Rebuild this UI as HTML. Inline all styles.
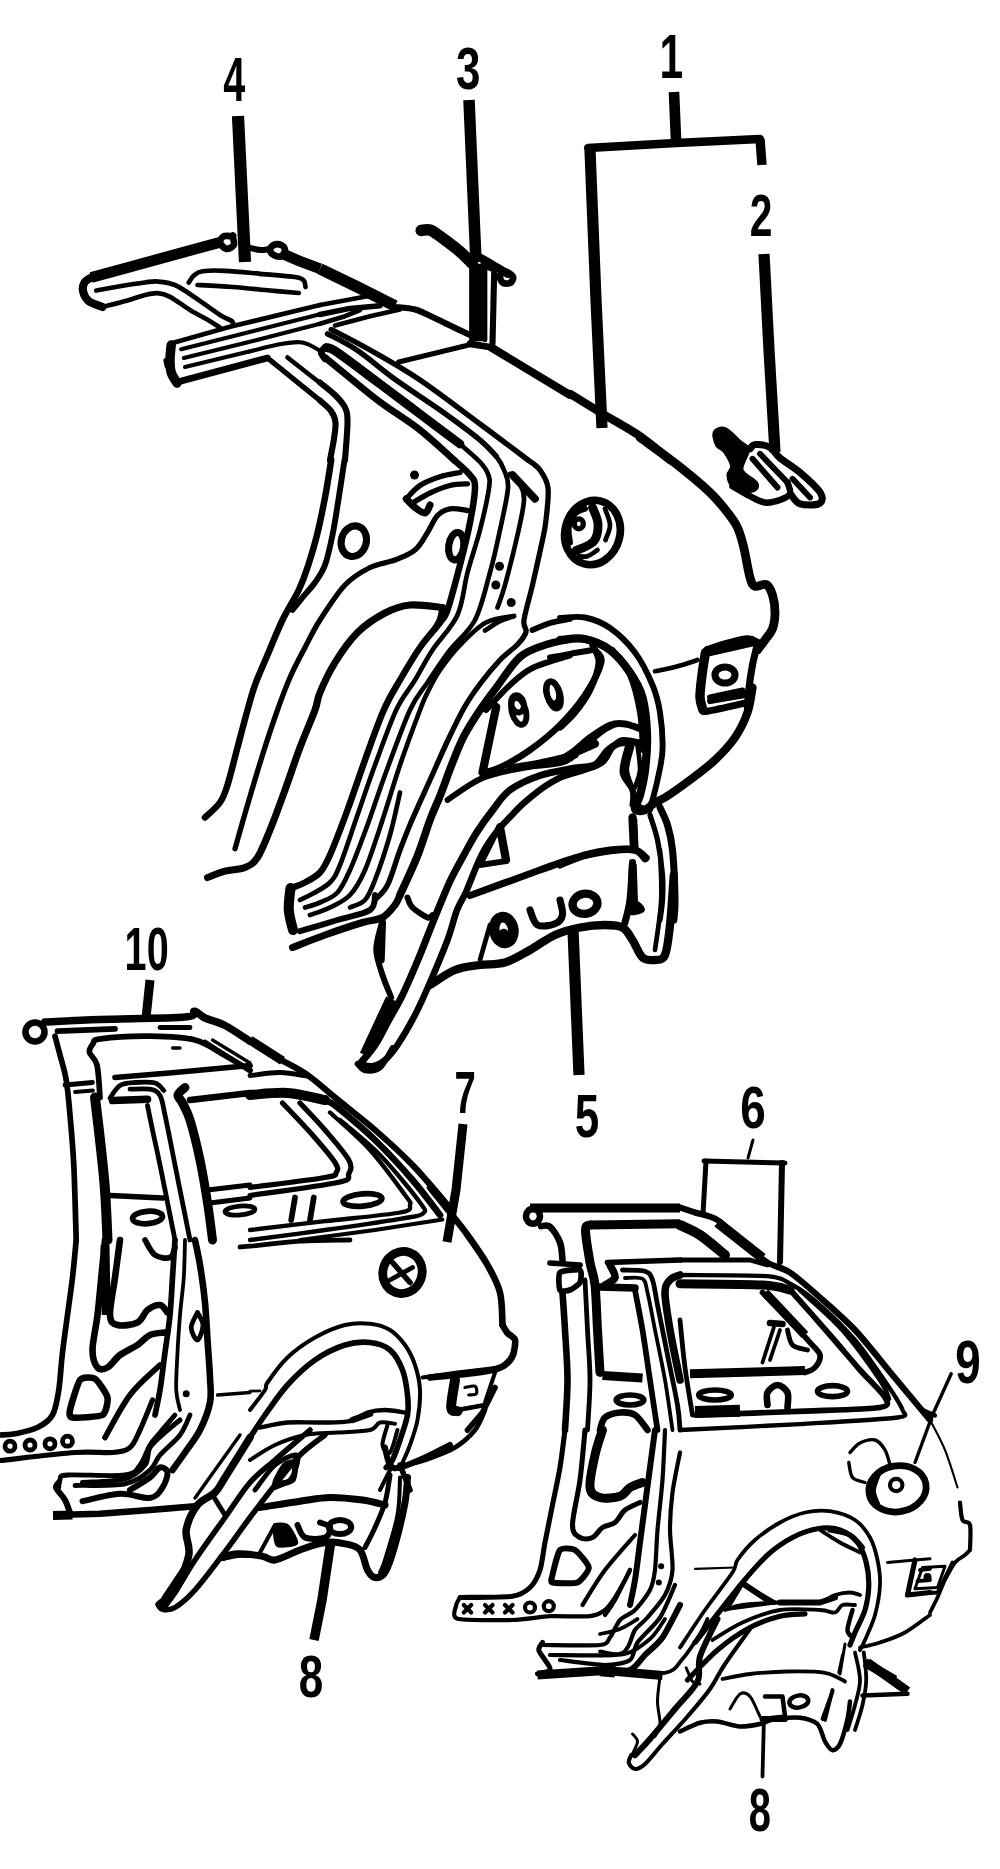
<!DOCTYPE html>
<html lang="en">
<head>
<meta charset="utf-8">
<title>Quarter panel parts diagram</title>
<style>
html,body{margin:0;padding:0;background:#fff;}
body{width:1000px;height:1869px;overflow:hidden;}
svg{display:block;}
.lbl text{font-family:"Liberation Sans","DejaVu Sans",sans-serif;font-weight:bold;fill:#000;}
</style>
</head>
<body>
<svg width="1000" height="1869" viewBox="0 0 1000 1869">
<rect width="1000" height="1869" fill="#fff"/>
<g class="ink" stroke="#000" stroke-width="2.5" fill="none" stroke-linecap="round" stroke-linejoin="round">
<path d="M91.2 277.5 L132.5 266.2 L182.5 252.5 L221.2 242" stroke-width="10.8" stroke-linecap="butt"/>
<path d="M232.5 236.2C231 236.2 225.8 235.2 223.8 236.2C221.7 237.3 219.6 240.4 220 242.5C220.4 244.6 224 248.3 226.2 248.8C228.5 249.2 232.7 247.1 233.8 245C234.8 242.9 232.7 237.7 232.5 236.2C232.3 234.8 234 236.2 232.5 236.2Z" stroke-width="6.8"/>
<path d="M91.2 277.5C90.1 278.3 85.9 280.2 84.5 282.5C83.1 284.8 82.3 288.1 83 291.2C83.7 294.4 85.5 298.6 88.8 301.2C92 303.9 100.2 306 102.5 307" stroke-width="8.1"/>
<path d="M102.5 307C106.7 305.9 120.4 302.5 127.5 300.5C134.6 298.5 140 296.2 145 295C150 293.8 153.3 293 157.5 293.2C161.7 293.5 164.6 294 170 296.8C175.4 299.5 183.3 305.9 190 310C196.7 314.1 205 318.3 210 321.2C215 324.2 218.3 326.5 220 327.5" stroke-width="4.7"/>
<path d="M96.2 290.5C100.2 289.8 111.9 287.6 120 286.2C128.1 284.9 138.8 283.3 145 282.5C151.2 281.7 152.5 281.1 157.5 281.5C162.5 281.9 168.8 282.3 175 285C181.2 287.7 187.5 292.5 195 297.5C202.5 302.5 213.8 311 220 315C226.2 319 229.9 319.5 232 321.2C234.1 323 232.4 324.8 232.5 325.5" stroke-width="4.7"/>
<path d="M188.8 282.5C189.6 281.3 191.5 277.4 193.8 275.5C196 273.6 197.3 272 202.5 271.2C207.7 270.5 215.4 270.3 225 270.8C234.6 271.2 248.3 272.7 260 273.8C271.7 274.8 287.7 275.9 295 277C302.3 278.1 302 278.8 303.8 280.5C305.5 282.2 305.2 285.9 305.5 287" stroke-width="4.7"/>
<path d="M197.5 285C203.3 285.3 220.4 286.1 232.5 287C244.6 287.9 259 289.5 270 290.5C281 291.5 294 292.6 298.8 293" stroke-width="4.7"/>
<path d="M248.8 247.5C250.6 247.9 256.5 249.8 260 250C263.5 250.2 268.3 249 270 248.8" stroke-width="6.1"/>
<path d="M270 250C270 248.3 271.9 245.8 273.8 245C275.6 244.2 279.4 244.2 281.2 245C283.1 245.8 285 248.1 285 250C285 251.9 283.1 255.4 281.2 256.2C279.4 257.1 275.6 256 273.8 255C271.9 254 270 251.7 270 250Z" stroke-width="6.8"/>
<path d="M282.5 253.8 L300 261.2 L320 268.8" stroke-width="10.8" stroke-linecap="butt"/>
<path d="M171.2 345C171 347.5 170 355.4 170 360C170 364.6 170.1 368.7 171.2 372.5C172.4 376.3 176 381.2 177 383" stroke-width="9.5"/>
<path d="M172.5 343 L230 326.8 L320 305" stroke-width="4.7"/>
<path d="M181.2 349.2 L320 314.2" stroke-width="4.1"/>
<path d="M183.8 358 L255 340.5 L320 323.8" stroke-width="4.1"/>
<path d="M185 367C195 364.6 228.8 356.4 245 352.5C261.2 348.6 272.9 345.4 282.5 343.8C292.1 342.1 296.2 341.4 302.5 342.5C308.8 343.6 317.1 349.2 320 350.5" stroke-width="4.1"/>
<path d="M177.5 382 L267.5 358" stroke-width="6.8"/>
<path d="M270 360 L320 400.5" stroke-width="5.4"/>
<path d="M287.5 357.5 L320 383" stroke-width="4.7"/>
<path d="M165 360 L166.2 366.2" stroke-width="3.4"/>
<path d="M238 116 L245 262" stroke-width="12.2" stroke-linecap="butt"/>
<path d="M421.2 230.5C422.7 230.4 426.9 229 430 230C433.1 231 435.8 233.3 440 236.2C444.2 239.2 450.8 244.2 455 247.5C459.2 250.8 462.1 253.5 465 256.2C467.9 259 471.2 262.5 472.5 263.8" stroke-width="11.5"/>
<path d="M480 257.5C482.5 259 490.4 263.5 495 266.2C499.6 269 505.4 272.5 507.5 273.8" stroke-width="8.1"/>
<path d="M500 275.5C500.6 273.8 504.1 271.8 506.2 272C508.4 272.2 512.4 275.2 513 277C513.6 278.8 511.8 282.1 510 283C508.2 283.9 504.2 283.8 502.5 282.5C500.8 281.2 499.4 277.2 500 275.5Z" stroke-width="6.8"/>
<path d="M476.2 263.8 L476.2 341.2" stroke-width="14.1" stroke-linecap="butt"/>
<path d="M485 266.2 L485 340" stroke-width="4.7"/>
<path d="M482.5 265.5 L495 270" stroke-width="5.4"/>
<path d="M494.2 271.2 L492.5 343.8" stroke-width="6.1"/>
<path d="M320 268.8 L357.5 287 L395 305.8" stroke-width="11.5" stroke-linecap="butt"/>
<path d="M395 307C398.3 307.4 408.8 307.8 415 309.5C421.2 311.2 426.7 314.3 432.5 317C438.3 319.7 443.8 322.5 450 325.5C456.2 328.5 466.7 333.4 470 335" stroke-width="6.1"/>
<path d="M320 305 L370 295.8" stroke-width="4.7"/>
<path d="M320 314.5 L347.5 308.8 L380 305.8" stroke-width="5.4"/>
<path d="M320 323.8 L345 316.2 L360 310" stroke-width="4.7"/>
<path d="M335 325.5 L370 316.2 L400 309.5" stroke-width="4.7"/>
<path d="M398.8 362 L468.8 345" stroke-width="5.4"/>
<path d="M470 343.8 L492.5 347.5" stroke-width="6.8"/>
<path d="M491.2 347.5 L570 395" stroke-width="8.1"/>
<path d="M331.2 329.5C337.7 332.9 355.2 341.6 370 350C384.8 358.4 401.7 367.7 420 380C438.3 392.3 462 410.7 480 424C498 437.3 520 454 528 460" stroke-width="5.4"/>
<path d="M327.5 333.8C332.5 336.5 346.1 342.8 357.5 350.5C368.9 358.2 382.2 370.1 396 380C409.8 389.9 426 400 440 410C454 420 470.7 432.3 480 440C489.3 447.7 493.3 453.3 496 456" stroke-width="5.4"/>
<path d="M326.2 347.5C328.1 348.3 328.5 346.4 337.5 352.5C346.5 358.6 366.2 373.8 380 384C393.8 394.2 406.7 404 420 414C433.3 424 453.3 439 460 444" stroke-width="8.8"/>
<path d="M325 357.5C328.3 360.2 335.8 366.3 345 373.8C354.2 381.2 367.5 392.6 380 402C392.5 411.4 407.7 420.3 420 430C432.3 439.7 448.3 455 454 460" stroke-width="6.8"/>
<path d="M325 347.5C324.4 348.3 321.2 350.6 321.2 352.5C321.2 354.4 324.4 357.7 325 358.8" stroke-width="6.8"/>
<path d="M320 382.5C322.5 384.6 330.8 390.8 335 395C339.2 399.2 342.9 402.9 345 407.5C347.1 412.1 347.5 413.8 347.5 422.5C347.5 431.2 345.4 453.8 345 460" stroke-width="6.1"/>
<path d="M320 400.5C321.9 402.3 328.7 407.6 331.2 411.2C333.8 414.9 335.1 417.7 335.5 422.5C335.9 427.3 334.7 433.8 333.8 440C332.8 446.2 330.6 456.7 330 460" stroke-width="6.1"/>
<path d="M469 100 L476 262" stroke-width="11.5" stroke-linecap="butt"/>
<path d="M674 92 L676 140" stroke-width="10.6" stroke-linecap="butt"/>
<path d="M588 148 L676 143 L760 139" stroke-width="8.3"/>
<path d="M760 139 L762 165" stroke-width="9.4" stroke-linecap="butt"/>
<path d="M590 150 L596 300 L602 428" stroke-width="11.2" stroke-linecap="butt"/>
<path d="M764 254 L769 350 L775 452" stroke-width="11.2" stroke-linecap="butt"/>
<path d="M570 393.8C575.4 397.1 590.8 406.7 602.5 413.8C614.2 420.8 628.8 428.5 640 436.2C651.2 444 665 456 670 460" stroke-width="8.3"/>
<path d="M640 437.5C646.2 442.1 665.8 455.8 677.5 465C689.2 474.2 701.7 484.6 710 492.5C718.3 500.4 722.9 506.7 727.5 512.5C732.1 518.3 734.8 521.7 737.5 527.5C740.2 533.3 741.7 539.2 743.8 547.5C745.8 555.8 748.1 571 750 577.5C751.9 584 752.3 585.1 755 586.2C757.7 587.4 763.3 583 766.2 584.5C769.2 586 771 590.3 772.5 595C774 599.7 775 606.9 775 612.5C775 618.1 774.2 624.2 772.5 628.8C770.8 633.3 767.5 636.5 765 640C762.5 643.5 758.8 648.3 757.5 650" stroke-width="8.8"/>
<path d="M715 432.5C716.2 429.9 720.8 427.8 725 429.5C729.2 431.2 736.2 439.1 740 442.5C743.8 445.9 747.3 445.4 747.5 450C747.7 454.6 739.8 464.4 741.2 470C742.7 475.6 754.6 480.3 756.2 483.8C757.9 487.2 755 490.1 751.2 490.5C747.5 490.9 737.5 488.8 733.8 486.2C730 483.7 729 478.3 728.8 475C728.5 471.7 733.1 470.2 732.5 466.2C731.9 462.3 727.5 454.8 725 451.2C722.5 447.7 719.2 448.1 717.5 445C715.8 441.9 713.8 435.1 715 432.5Z" stroke-width="4.7" fill="#000"/>
<path d="M750 448.8C750.9 448 752.2 444.7 755.5 444.5C758.8 444.3 765.9 445.2 770 447.5C774.1 449.8 775 453.8 780 458C785 462.2 793.2 466.7 800 472.5C806.8 478.3 817.4 487.8 820.5 493C823.6 498.2 822.2 502 818.8 503.8C815.3 505.5 804.6 505.2 800 503.8C795.4 502.3 792.7 496.5 791.2 495" stroke-width="7.1"/>
<path d="M732.5 486.2C735.4 487.9 744.6 493.5 750 496.2C755.4 499 760 501.9 765 502.5C770 503.1 775.8 501.5 780 500C784.2 498.5 788.8 496.7 790 493.8C791.2 490.8 787.9 484.4 787.5 482.5" stroke-width="6.5"/>
<path d="M752.5 458.8 L777.5 487.5" stroke-width="5.9"/>
<path d="M760 453.8 L787.5 482.5" stroke-width="5.9"/>
<path d="M792.5 478.8 L810 497.5" stroke-width="5.9"/>
<path d="M707.5 650C710.8 649 720.8 645.5 727.5 643.8C734.2 642 742.5 639.6 747.5 639.5C752.5 639.4 755.8 642.4 757.5 643" stroke-width="8.3"/>
<ellipse cx="353.8" cy="541.2" rx="12.5" ry="15.5" stroke-width="7.1" fill="none" transform="rotate(15 353.8 541.2)"/>
<ellipse cx="414.5" cy="475" rx="4.5" ry="4.5" stroke="none" fill="#000"/>
<path d="M406.2 498.8C408.5 496.5 414.4 489.2 420 485.5C425.6 481.8 433.3 478.9 440 476.8C446.7 474.6 456.7 473.2 460 472.5" stroke-width="5.3"/>
<path d="M412.5 503C415.4 501.3 423.8 495.9 430 493C436.2 490.1 443.8 487 450 485.5C456.2 484 464.6 484 467.5 483.8" stroke-width="5.3"/>
<path d="M406.2 498.8C407.7 500.2 411.9 505.1 415 507.5C418.1 509.9 422.5 513.4 425 513C427.5 512.6 429.2 506.3 430 505" stroke-width="7.1"/>
<path d="M467.5 510.5C464.6 510.2 455 507.9 450 508.8C445 509.6 441.2 511.5 437.5 515.5C433.8 519.5 431.2 526.8 427.5 532.5C423.8 538.2 420.4 545.4 415 550C409.6 554.6 402.5 557.1 395 560C387.5 562.9 378.3 563.3 370 567.5C361.7 571.7 353.3 576.2 345 585C336.7 593.8 326.7 609.6 320 620C313.3 630.4 310 637.9 305 647.5C300 657.1 294.6 667.1 290 677.5C285.4 687.9 282.1 697.1 277.5 710C272.9 722.9 267.5 739.2 262.5 755C257.5 770.8 252.1 789.4 247.5 805C242.9 820.6 237.1 841.5 235 848.8" stroke-width="5.3"/>
<ellipse cx="456.2" cy="546.2" rx="7.5" ry="13.8" stroke-width="7.1" fill="none" transform="rotate(8 456.2 546.2)"/>
<path d="M454 460C456.7 462.5 466.5 470.4 470 475C473.5 479.6 475 479.6 475 487.5C475 495.4 472.5 509.6 470 522.5C467.5 535.4 463.8 550.4 460 565C456.2 579.6 450.8 600.4 447.5 610C444.2 619.6 444.6 616.2 440 622.5C435.4 628.8 426.7 637.9 420 647.5C413.3 657.1 406 669.6 400 680C394 690.4 389.6 696.7 383.8 710C377.9 723.3 371 743.3 365 760C359 776.7 353.3 794.2 347.5 810C341.7 825.8 334.6 844.6 330 855C325.4 865.4 324.2 867.9 320 872.5C315.8 877.1 309.6 880 305 882.5C300.4 885 294.6 886.7 292.5 887.5" stroke-width="6.5"/>
<path d="M460 444C463.3 447 475.3 457 480 462C484.7 467 486.5 469.7 488 474C489.5 478.3 490.3 478.7 489 488C487.7 497.3 483.6 515.9 480 530C476.4 544.1 471.2 558.3 467.5 572.5C463.8 586.7 463.3 602.1 457.5 615C451.7 627.9 439.6 639.2 432.5 650C425.4 660.8 421 670 415 680C409 690 402.9 695.8 396.2 710C389.6 724.2 381.5 747.5 375 765C368.5 782.5 363.3 798.3 357.5 815C351.7 831.7 344.6 853.8 340 865C335.4 876.2 334.6 877.7 330 882.5C325.4 887.3 317.5 890.8 312.5 893.8C307.5 896.7 302.1 899 300 900" stroke-width="4.7"/>
<path d="M480 440C482.7 442.7 492 451 496 456C500 461 502 464.7 504 470C506 475.3 508.7 478 508 488C507.3 498 503 515.9 500 530C497 544.1 494.2 557.5 490 572.5C485.8 587.5 481.7 607.1 475 620C468.3 632.9 457.9 639.6 450 650C442.1 660.4 434.2 672.5 427.5 682.5C420.8 692.5 417.1 694.6 410 710C402.9 725.4 392.1 755.8 385 775C377.9 794.2 373.3 809.2 367.5 825C361.7 840.8 355 858.8 350 870C345 881.2 342.5 887.1 337.5 892.5C332.5 897.9 325.4 900 320 902.5C314.6 905 307.5 906.7 305 907.5" stroke-width="4.7"/>
<path d="M510 474C511.7 475.7 517.7 479.7 520 484C522.3 488.3 524.4 491.5 524 500C523.6 508.5 520.7 520.8 517.5 535C514.3 549.2 508.3 572.9 505 585C501.7 597.1 498.8 603.8 497.5 607.5" stroke-width="4.7"/>
<path d="M528 460C530 461.7 536.7 465.3 540 470C543.3 474.7 547 479.7 548 488C549 496.3 546.9 511.3 546 520C545.1 528.7 544.8 529.2 542.5 540C540.2 550.8 535.6 571.7 532.5 585C529.4 598.3 525.1 612.2 524 620C522.9 627.8 527 628 526 632C525 636 522.3 639.3 518 644C513.7 648.7 506.3 653.3 500 660C493.7 666.7 486 676 480 684C474 692 469.3 698.7 464 708C458.7 717.3 453.7 728 448 740C442.3 752 436 766.7 430 780C424 793.3 417 808.3 412 820C407 831.7 404.1 839.2 400 850C395.9 860.8 391.7 876.7 387.5 885C383.3 893.3 377.1 897.5 375 900" stroke-width="5.3"/>
<path d="M512.5 475 L535 498.8" stroke-width="7.7"/>
<ellipse cx="499.5" cy="566.2" rx="4.5" ry="4.5" stroke="none" fill="#000"/>
<ellipse cx="495.8" cy="585" rx="4.5" ry="4.5" stroke="none" fill="#000"/>
<ellipse cx="511.2" cy="602.5" rx="4.5" ry="4.5" stroke="none" fill="#000"/>
<path d="M514 616C509.3 617.1 495 617.7 486 622.5C477 627.3 467.7 637.1 460 645C452.3 652.9 445.4 662.1 440 670C434.6 677.9 430.8 685.8 427.5 692.5C424.2 699.2 424.6 697.9 420 710C415.4 722.1 406.2 746.7 400 765C393.8 783.3 388.3 802.5 382.5 820C376.7 837.5 370.4 857.5 365 870C359.6 882.5 355.8 888.8 350 895C344.2 901.2 336.7 904.2 330 907.5C323.3 910.8 313.3 913.8 310 915" stroke-width="4.7"/>
<path d="M485 630.5C487.5 629 495.2 623.6 500 621.2C504.8 618.9 511.5 617.1 513.8 616.2" stroke-width="4.7"/>
<path d="M532.5 630C535.4 628.8 543.8 624.9 550 623C556.2 621.1 566.7 619.5 570 618.8" stroke-width="5.9"/>
<path d="M570 639C565.8 640 553.3 642 545 645C536.7 648 528.2 649.8 520 657C511.8 664.2 502.7 679.2 496 688C489.3 696.8 485.3 702 480 710C474.7 718 468.7 727 464 736C459.3 745 456 754 452 764C448 774 443.7 786.7 440 796C436.3 805.3 433.8 809.8 430 820C426.2 830.2 422 844.5 417 857C412 869.5 402.8 888.7 400 895" stroke-width="7.7"/>
<path d="M486.2 710C490.2 705.8 502.3 692 510 685C517.7 678 522.5 672.9 532.5 668C542.5 663.1 563.8 657.6 570 655.5" stroke-width="5.9"/>
<path d="M207.5 877.5C210.4 876.5 218.8 872.9 225 871.2C231.2 869.6 239.6 869.8 245 867.5C250.4 865.2 253.3 863.8 257.5 857.5C261.7 851.2 265.4 841.2 270 830C274.6 818.8 280 803.8 285 790C290 776.2 295 760.8 300 747.5C305 734.2 311.7 719.2 315 710C318.3 700.8 316.7 700.4 320 692.5C323.3 684.6 328.8 672.5 335 662.5C341.2 652.5 349.2 640.8 357.5 632.5C365.8 624.2 376.2 617.6 385 613C393.8 608.4 400.4 605.9 410 605C419.6 604.1 437.1 607.1 442.5 607.5" stroke-width="7.1"/>
<path d="M442.5 607.5C442 609.6 441 616.2 439.5 620C438 623.8 434.7 628.3 433.8 630" stroke-width="5.9"/>
<ellipse cx="552.5" cy="692.5" rx="6.2" ry="11.2" stroke-width="5.9" fill="none" transform="rotate(-15 552.5 692.5)"/>
<ellipse cx="517.5" cy="703.8" rx="6.2" ry="8.8" stroke-width="5.9" fill="none" transform="rotate(-15 517.5 703.8)"/>
<path d="M331.2 460C330.2 466.2 327.4 485 325 497.5C322.6 510 319.9 523.3 317 535C314.1 546.7 310.5 558.3 307.5 567.5C304.5 576.7 302.9 581.2 298.8 590C294.6 598.8 287.7 609.2 282.5 620C277.3 630.8 272.1 644.2 267.5 655C262.9 665.8 258.3 675.8 255 685C251.7 694.2 250.4 699.6 247.5 710C244.6 720.4 240.8 735 237.5 747.5C234.2 760 230.4 775.8 227.5 785C224.6 794.2 223.8 797.1 220 802.5C216.2 807.9 207.5 815 205 817.5" stroke-width="6.5"/>
<path d="M344.5 460C343.5 466.2 340.8 485 338.8 497.5C336.8 510 334.8 523.8 332.5 535C330.2 546.2 327.9 557.1 325 565C322.1 572.9 318.8 577.1 315 582.5C311.2 587.9 306.2 592.9 302.5 597.5C298.8 602.1 294.2 607.9 292.5 610" stroke-width="5.9"/>
<path d="M400 792.5C398.3 799.6 394.2 820.4 390 835C385.8 849.6 379.2 869.2 375 880C370.8 890.8 369.2 895.4 365 900C360.8 904.6 352.5 906.2 350 907.5" stroke-width="4.7"/>
<path d="M290.5 888C290.2 891.7 288.3 903 288.8 910C289.2 917 292.3 926.7 293 930" stroke-width="10.1"/>
<path d="M292.5 947.5C297.9 945.4 313.3 939.2 325 935C336.7 930.8 352.9 925.4 362.5 922.5C372.1 919.6 377.1 920.4 382.5 917.5C387.9 914.6 392.1 908.8 395 905C397.9 901.2 399.2 896.7 400 895" stroke-width="7.1"/>
<path d="M300 931.2C306.2 929.4 325.8 923.5 337.5 920C349.2 916.5 363.8 914.2 370 910C376.2 905.8 374.2 897.5 375 895" stroke-width="5.9"/>
<path d="M382.5 922.5 L381.2 960" stroke-width="7.1"/>
<ellipse cx="592.5" cy="532.5" rx="27.5" ry="32.5" stroke-width="7.7" fill="none" transform="rotate(15 592.5 532.5)"/>
<path d="M592.5 507.5C593.4 510.2 597.8 518.1 598 523.8C598.2 529.4 597.4 536.8 593.8 541.2C590.1 545.7 579.2 549 576.2 550.5" stroke-width="8.8"/>
<path d="M570 542.5C569.8 540 567.9 532.3 568.8 527.5C569.6 522.7 572.3 516.9 575 513.8C577.7 510.6 583.3 509.6 585 508.8" stroke-width="5.9"/>
<ellipse cx="578.8" cy="523.8" rx="4.5" ry="5" stroke-width="5.3" fill="none"/>
<path d="M605 508.8C605.8 511.5 609.9 519.8 610 525C610.1 530.2 606.2 537.5 605.5 540" stroke-width="4.7"/>
<path d="M578.8 556.2C580.2 556.2 584.4 557.3 587.5 556.2C590.6 555.2 595.8 551 597.5 550" stroke-width="4.7"/>
<path d="M705.5 652.5 L755 641.2" stroke-width="9.4" stroke-linecap="butt"/>
<path d="M705.5 652.5C704.9 656.2 702.9 667.5 702 675C701.1 682.5 699.8 691.7 700 697.5C700.2 703.3 702.5 707.9 703 710" stroke-width="9.4"/>
<path d="M757.5 643.8C756.7 647.3 754 657.3 752.5 665C751 672.7 749.6 682.5 748.8 690C747.9 697.5 747.7 706.7 747.5 710" stroke-width="7.1"/>
<ellipse cx="725" cy="675" rx="10" ry="8" stroke-width="7.1" fill="none"/>
<path d="M710 701.2 L745 695" stroke-width="5.9"/>
<path d="M655 671.2C658.3 670.5 667.9 668.9 675 667C682.1 665.1 693.8 661.2 697.5 660" stroke-width="4.7"/>
<path d="M560 618C564.2 617.9 576.7 615.8 585 617.5C593.3 619.2 601.7 622.2 610 628C618.3 633.8 627.9 643 635 652.5C642.1 662 648.3 675 652.5 685C656.7 695 658.3 701.7 660 712.5C661.7 723.3 662.9 738.8 662.5 750C662.1 761.2 659.2 771.7 657.5 780C655.8 788.3 653.3 796.7 652.5 800" stroke-width="5.9"/>
<path d="M560 640C564.2 639.8 576.7 637.3 585 639C593.3 640.7 602.5 644.4 610 650C617.5 655.6 624.6 664.6 630 672.5C635.4 680.4 639.7 687.1 642.5 697.5C645.3 707.9 646.6 722.9 647 735C647.4 747.1 646.2 760 645 770C643.8 780 641.7 788.5 640 795C638.3 801.5 634.4 806.2 635 808.8C635.6 811.3 640.4 811.5 643.8 810.5C647.1 809.5 653.1 803.8 655 802.5" stroke-width="8.3"/>
<path d="M592.5 645C593.5 647.9 599.2 655 598.8 662.5C598.3 670 594 681.7 590 690C586 698.3 580 706.2 575 712.5C570 718.8 562.5 725 560 727.5" stroke-width="6.5"/>
<path d="M447.5 800C453.3 796.3 469.6 783.4 482.5 778C495.4 772.6 511.7 770.1 525 767.5C538.3 764.9 553.3 765.3 562.5 762.5C571.7 759.7 573.8 755.4 580 750.5C586.2 745.6 593.8 737.4 600 733C606.2 728.6 610.8 725.2 617.5 724.2C624.2 723.3 636.2 727 640 727.5" stroke-width="5.9"/>
<path d="M550 657.5C553.3 656.9 562.9 655 570 653.8C577.1 652.5 588.8 650.6 592.5 650" stroke-width="5.9"/>
<path d="M595 650C596 652.1 602.9 655 601.2 662.5C599.6 670 591.9 684.6 585 695C578.1 705.4 569.2 715.8 560 725C550.8 734.2 540 742.9 530 750C520 757.1 507.9 763.7 500 767.5C492.1 771.3 485.4 772.1 482.5 773" stroke-width="6.5"/>
<path d="M496.2 707 L482.5 772.5" stroke-width="8.3"/>
<ellipse cx="518.8" cy="711.2" rx="7" ry="13.8" stroke-width="5.9" fill="none" transform="rotate(-15 518.8 711.2)"/>
<ellipse cx="553.8" cy="695" rx="6.5" ry="13.8" stroke-width="5.9" fill="none" transform="rotate(-15 553.8 695)"/>
<path d="M640 743C636.7 743 625.4 741.8 620 743C614.6 744.2 611.7 746.8 607.5 750.5C603.3 754.2 600.4 762.1 595 765C589.6 767.9 584.2 766.2 575 768C565.8 769.8 550.8 771.8 540 775.5C529.2 779.2 518 784.1 510 790C502 795.9 497.5 804 492 811C486.5 818 481.5 825 477 832C472.5 839 469.5 844.8 465 853C460.5 861.2 455.2 870.1 450 881.2C444.8 892.4 438.8 907.7 433.8 920C428.8 932.3 425.2 942.5 420 955C414.8 967.5 407.7 984.2 402.5 995C397.3 1005.8 393.3 1011.7 388.8 1020C384.2 1028.3 379.8 1037.7 375 1045C370.2 1052.3 362.5 1060.6 360 1063.8" stroke-width="7.1"/>
<path d="M510 768C515 767.2 529.2 765.2 540 763C550.8 760.8 569.2 756.3 575 755" stroke-width="7.1"/>
<path d="M575 770C570.3 772.5 555.3 779.7 547 785C538.7 790.3 531.2 796.7 525 802C518.8 807.3 514.5 812.3 510 817C505.5 821.7 502 825 498 830C494 835 489.5 841.2 486 847C482.5 852.8 480.3 857.5 477 865C473.7 872.5 469.3 884.5 466 892C462.7 899.5 460.1 902 457 910C453.9 918 452 927.9 447.5 940C443 952.1 435.4 970 430 982.5C424.6 995 420.4 1004.6 415 1015C409.6 1025.4 402.5 1037.5 397.5 1045C392.5 1052.5 389.2 1056.5 385 1060C380.8 1063.5 376.7 1065.6 372.5 1066.2C368.3 1066.9 362.1 1064.2 360 1063.8" stroke-width="6.5"/>
<path d="M499.5 826 L506 861.2 L480 865Z" stroke-width="5.9"/>
<path d="M500 827.5 L506 860" stroke-width="8.3"/>
<path d="M470 895.5C479.2 892.2 507.5 881.8 525 875.5C542.5 869.2 560.4 862.2 575 858C589.6 853.8 602.5 851.8 612.5 850.5C622.5 849.2 629.4 848.8 635 850C640.6 851.2 644.4 856.7 646.2 858" stroke-width="7.1"/>
<path d="M612.5 650C615.4 654.2 625.4 664.6 630 675C634.6 685.4 637.8 700 640 712.5C642.2 725 642.5 743.8 643 750" stroke-width="5.9"/>
<path d="M631.2 747.5C630.4 751.2 626 762.9 626.2 770C626.5 777.1 630.6 784.1 632.5 790C634.4 795.9 634.6 802.2 637.5 805.5C640.4 808.8 647.9 809.2 650 810" stroke-width="5.9"/>
<path d="M633.8 820.5 L635 847.5" stroke-width="7.1"/>
<path d="M633.8 865.5 L635 900" stroke-width="5.9"/>
<path d="M381.2 925C380.4 929.2 376 941.7 376.2 950C376.5 958.3 380 967.1 382.5 975C385 982.9 389.8 993.8 391.2 997.5" stroke-width="5.9"/>
<path d="M391.2 998.8 L365 1055" stroke-width="11.2" stroke-linecap="butt"/>
<path d="M407.5 897.5C408.3 899.2 409.2 904.2 412.5 907.5C415.8 910.8 424.2 916.2 427.5 917.5C430.8 918.8 431.7 915.4 432.5 915" stroke-width="5.9"/>
<path d="M573 930 L579 1075" stroke-width="11.2" stroke-linecap="butt"/>
<path d="M560 760C562.5 758.3 570 753.8 575 750C580 746.2 584.2 741.7 590 737.5C595.8 733.3 604.2 727.3 610 725C615.8 722.7 619.6 722.9 625 723.8C630.4 724.6 639.6 729 642.5 730" stroke-width="6.5"/>
<path d="M560 777.5C564.2 776.2 577.9 772.5 585 770C592.1 767.5 597.9 766.2 602.5 762.5C607.1 758.8 609.2 751.2 612.5 747.5C615.8 743.8 617.9 740.8 622.5 740C627.1 739.2 637.1 742.1 640 742.5" stroke-width="5.9"/>
<path d="M575 752.5 L595 743.8" stroke-width="8.3"/>
<path d="M627.5 747.5C626.7 751.7 621.7 765.4 622.5 772.5C623.3 779.6 630.8 784.6 632.5 790C634.2 795.4 632.5 802.5 632.5 805" stroke-width="5.9"/>
<path d="M637.5 745C637.9 749.2 640.4 762.9 640 770C639.6 777.1 635.8 784.6 635 787.5" stroke-width="4.7"/>
<path d="M752.5 687.5C751.7 691.7 750.4 704.2 747.5 712.5C744.6 720.8 740.4 729.6 735 737.5C729.6 745.4 722.5 752.9 715 760C707.5 767.1 698.3 773.8 690 780C681.7 786.2 671.2 793.7 665 797.5C658.8 801.3 654.6 802.1 652.5 803" stroke-width="8.3"/>
<path d="M703.8 710C704.4 710.2 700.6 712.4 707.5 711.2C714.4 710.1 738.8 704.4 745 703" stroke-width="7.1"/>
<path d="M710 697.5 L742.5 690.5" stroke-width="5.9"/>
<path d="M660 807.5C661.2 810.4 665.4 817.9 667.5 825C669.6 832.1 671.2 837.5 672.5 850C673.8 862.5 674.8 888.3 675 900C675.2 911.7 674 916.7 673.8 920" stroke-width="7.1"/>
<path d="M650 815C651.2 819.2 655.4 830 657.5 840C659.6 850 661.7 865 662.5 875C663.3 885 662.9 892.5 662.5 900C662.1 907.5 660.4 916.7 660 920" stroke-width="5.3"/>
<path d="M632.5 817.5 L633.8 845" stroke-width="8.3"/>
<path d="M560 865C564.2 863.3 576.7 857.5 585 855C593.3 852.5 601.7 850.8 610 850C618.3 849.2 629.2 848.5 635 850C640.8 851.5 643.3 857.3 645 858.8" stroke-width="7.1"/>
<path d="M632.5 865 L631.2 900" stroke-width="7.1"/>
<ellipse cx="503.8" cy="930" rx="9.5" ry="13" stroke-width="10.6" fill="none" transform="rotate(-10 503.8 930)"/>
<ellipse cx="503.8" cy="933.8" rx="5" ry="5" stroke="none" fill="#000"/>
<path d="M490 925 L480 960" stroke-width="4.7"/>
<path d="M530 910C531.2 912.5 533.3 922.7 537.5 925C541.7 927.3 550.8 925.4 555 923.8C559.2 922.1 561.7 919 562.5 915C563.3 911 560.4 902.5 560 900" stroke-width="7.1"/>
<ellipse cx="585" cy="903.8" rx="12.5" ry="10" stroke-width="8.3" fill="none" transform="rotate(-10 585 903.8)"/>
<path d="M430 985C434.2 982.5 446.7 973.3 455 970C463.3 966.7 471.7 966.2 480 965C488.3 963.8 496.7 965 505 962.5C513.3 960 521.7 954.6 530 950C538.3 945.4 546.7 938.8 555 935C563.3 931.2 571.7 929.2 580 927.5C588.3 925.8 597.9 925 605 925C612.1 925 617.9 925 622.5 927.5C627.1 930 629.2 935 632.5 940C635.8 945 638.8 954.2 642.5 957.5C646.2 960.8 651.2 960.4 655 960C658.8 959.6 662.5 960.8 665 955C667.5 949.2 668.5 938.3 670 925C671.5 911.7 673.1 883.3 673.8 875" stroke-width="8.3"/>
<path d="M660 850C660.2 858.3 662.1 883.3 661.2 900C660.4 916.7 656 941.7 655 950" stroke-width="4.7"/>
<path d="M632.5 862.5C632.1 868.8 631.2 890 630 900C628.8 910 625.8 918.8 625 922.5" stroke-width="7.1"/>
<path d="M635 902.5C637.1 902.1 643.3 908.3 642.5 910C641.7 911.7 631.2 913.8 630 912.5C628.8 911.2 632.9 902.9 635 902.5Z" stroke-width="4.7" fill="#000"/>
<ellipse cx="35" cy="1032" rx="9.5" ry="9.5" stroke-width="6.6" fill="none"/>
<path d="M45 1022C54.2 1021.6 76.7 1020.3 100 1019.5C123.3 1018.7 169.2 1018.4 185 1017C200.8 1015.6 191.2 1011.1 194.5 1011.2C197.8 1011.4 199.9 1015.6 205 1018C210.1 1020.4 217.5 1021.6 225 1025.5C232.5 1029.4 245.8 1038.6 250 1041.2" stroke-width="7.6"/>
<path d="M57.5 1031.2 L115 1028.8" stroke-width="5.7"/>
<path d="M160 1027.5 L190 1027.5" stroke-width="4.8"/>
<path d="M100 1097.5C99.5 1092.1 98.8 1072.5 97 1065C95.2 1057.5 90.2 1056 89.5 1052.5C88.8 1049 91.2 1046 93 1043.8C94.8 1041.5 91 1040 100.5 1038.8C110 1037.5 134.2 1036 150 1036.2C165.8 1036.5 182.5 1036.8 195 1040C207.5 1043.2 215.8 1050.4 225 1055.5C234.2 1060.6 245.8 1068 250 1070.5" stroke-width="5.7"/>
<path d="M55 1036.2C55.8 1039.4 58.1 1047.7 60 1055C61.9 1062.3 64.6 1070 66.2 1080C67.9 1090 68.8 1100.8 70 1115C71.2 1129.2 72.7 1144.2 73.8 1165C74.8 1185.8 75.8 1227.5 76.2 1240" stroke-width="5.7"/>
<path d="M65 1085 L92.5 1082.5" stroke-width="4.8"/>
<path d="M75 1092 L93 1090.5" stroke-width="3.8"/>
<path d="M95 1097.5C95.8 1104.6 98.3 1124.6 100 1140C101.7 1155.4 103.8 1173.3 105 1190C106.2 1206.7 107.1 1231.7 107.5 1240" stroke-width="10"/>
<path d="M115 1077.5 L175 1072.5 L250 1065.5" stroke-width="5.7"/>
<path d="M110 1098C111.7 1095.9 115.8 1088.1 120 1085.5C124.2 1082.9 129.2 1082.9 135 1082.5C140.8 1082.1 150.2 1081.7 155 1083C159.8 1084.3 162.3 1089.2 163.8 1090.5" stroke-width="4.8"/>
<path d="M112.5 1100.5 L147.5 1099.2" stroke-width="7.6"/>
<path d="M130 1089.2C133.3 1089.2 145 1088.2 150 1089.2C155 1090.3 157.5 1091.2 160 1095.5C162.5 1099.8 162.5 1103.4 165 1115C167.5 1126.6 171.7 1148.3 175 1165C178.3 1181.7 182.5 1202.5 185 1215C187.5 1227.5 189.2 1235.8 190 1240" stroke-width="4.8"/>
<path d="M147.5 1105.5C148.3 1109.6 150.4 1120.1 152.5 1130C154.6 1139.9 157.1 1150.8 160 1165C162.9 1179.2 167.5 1202.5 170 1215C172.5 1227.5 174.2 1235.8 175 1240" stroke-width="4.8"/>
<path d="M185 1087.5C183.8 1088.8 178.4 1092.4 178 1095C177.6 1097.6 180.5 1098.8 182.5 1103C184.5 1107.2 187.1 1110.5 190 1120C192.9 1129.5 197.1 1146.2 200 1160C202.9 1173.8 205.4 1189.2 207.5 1202.5C209.6 1215.8 211.7 1233.8 212.5 1240" stroke-width="9"/>
<path d="M190 1100 L250 1093" stroke-width="6.6"/>
<path d="M205 1041.2 L242.5 1065.5" stroke-width="3.3"/>
<path d="M212.5 1040 L250 1063" stroke-width="3.3"/>
<path d="M172.5 1048 L180 1048" stroke-width="3.3"/>
<path d="M110 1195.5 L162.5 1198" stroke-width="5.7"/>
<path d="M207.5 1190 L250 1185" stroke-width="4.8"/>
<path d="M210 1203 L250 1198" stroke-width="4.8"/>
<ellipse cx="147.5" cy="1217.5" rx="15" ry="6.2" stroke-width="5.7" fill="none" transform="rotate(-5 147.5 1217.5)"/>
<ellipse cx="240" cy="1210.5" rx="15" ry="4.5" stroke-width="4.8" fill="none" transform="rotate(-5 240 1210.5)"/>
<path d="M150 980 L146 1018" stroke-width="9" stroke-linecap="butt"/>
<path d="M357.5 1063.8C358.8 1064.9 361.2 1069.9 365 1070.5C368.8 1071.1 375.4 1071.2 380 1067.5C384.6 1063.8 390.4 1051.2 392.5 1048" stroke-width="5.7"/>
<path d="M250 1040 L282.5 1060.8" stroke-width="9" stroke-linecap="butt"/>
<path d="M282.5 1060.8C286.7 1063.1 298.8 1068.9 307.5 1075C316.2 1081.1 323.8 1088.3 335 1097.5C346.2 1106.7 362.1 1118.8 375 1130C387.9 1141.2 400.4 1152.5 412.5 1165C424.6 1177.5 441.7 1198.3 447.5 1205" stroke-width="6.2"/>
<path d="M325 1100C327.1 1101.2 329.2 1100.8 337.5 1107.5C345.8 1114.2 362.5 1127.9 375 1140C387.5 1152.1 401.7 1167.5 412.5 1180C423.3 1192.5 435.4 1209.2 440 1215" stroke-width="6.6"/>
<path d="M250 1075.5C255 1075 270.4 1072.4 280 1072.5C289.6 1072.6 302.9 1075.6 307.5 1076.2" stroke-width="4.8"/>
<path d="M250 1095C256.2 1094.7 275 1092.2 287.5 1093C300 1093.8 318.8 1098.8 325 1100" stroke-width="10"/>
<path d="M282.5 1103C287.5 1108.3 303.8 1125.1 312.5 1135C321.2 1144.9 331 1156.2 335 1162.5C339 1168.8 337.9 1170 336.2 1172.5C334.6 1175 339.4 1175 325 1177.5C310.6 1180 262.5 1185.8 250 1187.5" stroke-width="5.2"/>
<path d="M300 1103C304.2 1107.5 316.9 1120.5 325 1130C333.1 1139.5 344.8 1152.7 348.8 1160C352.7 1167.3 350.6 1170 348.8 1173.8C346.9 1177.5 354 1178.9 337.5 1182.5C321 1186.1 264.6 1193.3 250 1195.5" stroke-width="5.2"/>
<path d="M330 1112.5C336.7 1118.8 357.5 1136.2 370 1150C382.5 1163.8 398.3 1185.8 405 1195C411.7 1204.2 410.8 1202.1 410 1205C409.2 1207.9 414.2 1209.8 400 1212.5C385.8 1215.2 350 1218.3 325 1221.2C300 1224.2 262.5 1228.5 250 1230" stroke-width="4.3"/>
<path d="M340 1120C346.7 1125.8 366.7 1141.2 380 1155C393.3 1168.8 412.9 1192.7 420 1202.5C427.1 1212.3 425.8 1211 422.5 1213.8C419.2 1216.5 416.2 1216 400 1218.8C383.8 1221.5 350 1226.5 325 1230C300 1233.5 262.5 1238.3 250 1240" stroke-width="4.3"/>
<path d="M442.5 1219.5 L375 1230 L300 1240" stroke-width="3.8"/>
<path d="M295 1197.5 L291.2 1220" stroke-width="5.7"/>
<path d="M313.8 1197.5 L310 1220" stroke-width="5.7"/>
<ellipse cx="362.5" cy="1200" rx="19.5" ry="6.2" stroke-width="5.7" fill="none" transform="rotate(-5 362.5 1200)"/>
<path d="M463 1124 L456 1190 L447 1242" stroke-width="9" stroke-linecap="butt"/>
<path d="M76.2 1240C75.6 1246.2 74 1265 72.5 1277.5C71 1290 69.2 1302.5 67.5 1315C65.8 1327.5 64 1340 62.5 1352.5C61 1365 60.4 1379.6 58.8 1390C57.1 1400.4 56 1408.8 52.5 1415C49 1421.2 43.8 1424.4 37.5 1427.5C31.2 1430.6 21.2 1432.5 15 1433.8C8.8 1435 2.5 1434.8 0 1435" stroke-width="5.7"/>
<path d="M105 1240C104.6 1244.2 103.8 1252.5 102.5 1265C101.2 1277.5 99.2 1300.8 97.5 1315C95.8 1329.2 92.5 1341.2 92.5 1350C92.5 1358.8 95 1364.6 97.5 1367.5C100 1370.4 103.8 1369.6 107.5 1367.5C111.2 1365.4 115 1358.8 120 1355C125 1351.2 132.5 1348.3 137.5 1345C142.5 1341.7 145.4 1337.1 150 1335C154.6 1332.9 162.5 1332.9 165 1332.5" stroke-width="6.6"/>
<path d="M105 1245 L106.2 1315" stroke-width="9" stroke-linecap="butt"/>
<path d="M120 1240C119.2 1246.2 116.7 1265 115 1277.5C113.3 1290 109.6 1307.1 110 1315C110.4 1322.9 112.9 1323.8 117.5 1325C122.1 1326.2 132.5 1325 137.5 1322.5C142.5 1320 143.8 1312.9 147.5 1310C151.2 1307.1 156.7 1304.6 160 1305C163.3 1305.4 166.2 1311.2 167.5 1312.5" stroke-width="6.6"/>
<path d="M145 1240C146.7 1242.5 150.8 1252.1 155 1255C159.2 1257.9 166.7 1258.8 170 1257.5C173.3 1256.2 174.2 1249.2 175 1247.5" stroke-width="5.7"/>
<path d="M175 1240C174.6 1246.2 173.3 1265 172.5 1277.5C171.7 1290 171.2 1302.5 170 1315C168.8 1327.5 166.7 1340 165 1352.5C163.3 1365 161.7 1379.6 160 1390C158.3 1400.4 155.8 1410.8 155 1415" stroke-width="5.7"/>
<path d="M185 1240C184.8 1246.2 184.6 1265 183.8 1277.5C182.9 1290 181 1302.5 180 1315C179 1327.5 178.1 1340 177.5 1352.5C176.9 1365 175.8 1380.4 176.2 1390C176.7 1399.6 179.4 1406.7 180 1410" stroke-width="3.8"/>
<path d="M195 1240C195.8 1244.2 198.3 1254.6 200 1265C201.7 1275.4 203.8 1290 205 1302.5C206.2 1315 206.7 1327.5 207.5 1340C208.3 1352.5 209.6 1367.1 210 1377.5C210.4 1387.9 211.7 1393.8 210 1402.5C208.3 1411.2 204.2 1421.7 200 1430C195.8 1438.3 189.6 1445.8 185 1452.5C180.4 1459.2 174.6 1467.1 172.5 1470" stroke-width="6.6"/>
<path d="M197.5 1312.5C196.5 1315 191.2 1322.9 191.2 1327.5C191.2 1332.1 195.5 1340.4 197.5 1340C199.5 1339.6 203 1329.6 203 1325C203 1320.4 198.4 1314.6 197.5 1312.5" stroke-width="4.8"/>
<path d="M80 1380C82.5 1376.9 92.2 1377 95 1378.8C97.8 1380.5 106.8 1393.9 107.5 1397.5C108.2 1401.1 106 1413 102.5 1415C99 1417 75.8 1418 72.5 1417.5C69.2 1417 69.2 1413.8 70 1410C70.8 1406.2 77.5 1383.1 80 1380Z" stroke-width="6.6"/>
<path d="M160 1365C155 1370 139.2 1382.9 130 1395C120.8 1407.1 109.2 1430.4 105 1437.5" stroke-width="5.7"/>
<path d="M152.5 1400C150.4 1405 143.8 1422.1 140 1430C136.2 1437.9 134.6 1443.8 130 1447.5C125.4 1451.2 121.7 1451.7 112.5 1452.5C103.3 1453.3 93.8 1451.2 75 1452.5C56.2 1453.8 12.5 1459.2 0 1460.5" stroke-width="5.2"/>
<ellipse cx="10" cy="1446.2" rx="5" ry="5" stroke-width="4.8" fill="none"/>
<ellipse cx="30" cy="1445" rx="5" ry="5" stroke-width="4.8" fill="none"/>
<ellipse cx="50" cy="1443.8" rx="5" ry="5" stroke-width="4.8" fill="none"/>
<ellipse cx="67.5" cy="1441.2" rx="5" ry="5" stroke-width="4.8" fill="none"/>
<path d="M58.8 1487.5C59 1486.2 58.5 1482.1 60 1480C61.5 1477.9 56.7 1475.8 67.5 1475C78.3 1474.2 112.9 1476.7 125 1475C137.1 1473.3 135.8 1470 140 1465C144.2 1460 146.7 1450.4 150 1445C153.3 1439.6 155.8 1437.5 160 1432.5C164.2 1427.5 172.5 1417.9 175 1415" stroke-width="4.8"/>
<path d="M75 1485.5C83.3 1485.2 112.5 1486.3 125 1483.8C137.5 1481.2 144.2 1474.8 150 1470C155.8 1465.2 155 1460.8 160 1455C165 1449.2 175 1441.7 180 1435C185 1428.3 188.3 1418.3 190 1415" stroke-width="4.8"/>
<path d="M217.5 1395 L250 1392.5" stroke-width="3.3"/>
<ellipse cx="186.2" cy="1393.8" rx="3.5" ry="3.5" stroke="none" fill="#000"/>
<path d="M240 1247C241.7 1246.9 240 1247.2 250 1246.2C260 1245.3 283.3 1242.3 300 1241.2C316.7 1240.2 341.7 1240.2 350 1240" stroke-width="4.8"/>
<ellipse cx="402.5" cy="1272.5" rx="19.5" ry="21.2" stroke-width="8.8" fill="none" transform="rotate(20 402.5 1272.5)"/>
<path d="M392.5 1262.5 L410 1282.5" stroke-width="5.6"/>
<path d="M390 1280 L412.5 1267.5" stroke-width="4.8"/>
<path d="M250 1410C252.5 1406.7 262.1 1394.6 265 1390C267.9 1385.4 263.8 1387.9 267.5 1382.5C271.2 1377.1 279.6 1365 287.5 1357.5C295.4 1350 305.4 1342.9 315 1337.5C324.6 1332.1 335.8 1327.3 345 1325C354.2 1322.7 362.5 1322.9 370 1323.8C377.5 1324.6 384.2 1326.5 390 1330C395.8 1333.5 400.8 1339.2 405 1345C409.2 1350.8 412.5 1357.5 415 1365C417.5 1372.5 419.6 1380.8 420 1390C420.4 1399.2 419.2 1410.8 417.5 1420C415.8 1429.2 412.5 1437.9 410 1445C407.5 1452.1 403.8 1459.6 402.5 1462.5" stroke-width="4"/>
<path d="M250 1437.5C252.5 1433.8 258.8 1423.8 265 1415C271.2 1406.2 279.2 1394.2 287.5 1385C295.8 1375.8 305.4 1366.7 315 1360C324.6 1353.3 335.8 1347.9 345 1345C354.2 1342.1 362.5 1341.7 370 1342.5C377.5 1343.3 384.6 1345.4 390 1350C395.4 1354.6 399.6 1362.5 402.5 1370C405.4 1377.5 406.7 1387.5 407.5 1395C408.3 1402.5 408.8 1407.5 407.5 1415C406.2 1422.5 402.5 1432.5 400 1440C397.5 1447.5 394.8 1455.4 392.5 1460C390.2 1464.6 387.3 1466.2 386.2 1467.5" stroke-width="5.6"/>
<path d="M260 1427.5C264.6 1426.7 277.5 1423.3 287.5 1422.5C297.5 1421.7 309.6 1422.7 320 1422.5C330.4 1422.3 342.1 1422.9 350 1421.2C357.9 1419.6 361.7 1414.4 367.5 1412.5C373.3 1410.6 378.8 1410 385 1410C391.2 1410 401.7 1412.1 405 1412.5" stroke-width="4.4"/>
<path d="M352.5 1420 L370 1413.8" stroke-width="6.4"/>
<path d="M250 1460C254.2 1457.5 265.8 1449.2 275 1445C284.2 1440.8 294.6 1437.1 305 1435C315.4 1432.9 326.7 1433.3 337.5 1432.5C348.3 1431.7 362.9 1431.7 370 1430C377.1 1428.3 375.8 1423.5 380 1422.5C384.2 1421.5 392.5 1423.5 395 1423.8" stroke-width="4"/>
<path d="M255 1490C258.3 1485.8 268.3 1470.8 275 1465C281.7 1459.2 291.2 1455.4 295 1455C298.8 1454.6 298.3 1458.3 297.5 1462.5C296.7 1466.7 293.8 1475.8 290 1480C286.2 1484.2 277.5 1486.2 275 1487.5" stroke-width="4.8"/>
<path d="M387.5 1425C386.7 1428.3 382.1 1440.4 382.5 1445C382.9 1449.6 387.5 1455 390 1452.5C392.5 1450 396.2 1433.8 397.5 1430" stroke-width="4"/>
<path d="M422.5 1377.5 L457.5 1372.5 L500 1367.5" stroke-width="4"/>
<path d="M455 1380C454.4 1384.6 450.8 1402.3 451.2 1407.5C451.7 1412.7 456.5 1410.6 457.5 1411.2" stroke-width="10"/>
<path d="M457.5 1410 L485 1405" stroke-width="4.8"/>
<path d="M495 1372.5 L485 1402.5" stroke-width="4"/>
<path d="M465 1387.5C466.7 1387.3 473.1 1385.2 475 1386.2C476.9 1387.3 477.3 1392.3 476.2 1393.8C475.2 1395.2 470 1394.8 468.8 1395" stroke-width="3.2"/>
<path d="M485 1410C483.3 1413.3 480 1423.8 475 1430C470 1436.2 463.3 1442.5 455 1447.5C446.7 1452.5 433.3 1457.1 425 1460C416.7 1462.9 408.3 1464.2 405 1465" stroke-width="4.8"/>
<path d="M390 1470 L380 1490" stroke-width="4"/>
<path d="M400 1465 L410 1490" stroke-width="5.6"/>
<path d="M250 1391.2 L260 1390.8" stroke-width="2.8"/>
<path d="M58.8 1482.5C58.3 1483.4 55.2 1485.1 56.2 1488C57.3 1490.9 62.7 1495.8 65 1500C67.3 1504.2 69.2 1510.8 70 1513" stroke-width="6"/>
<path d="M53 1515.5 L72.5 1515" stroke-width="9" stroke-linecap="butt"/>
<path d="M82.5 1482.5C89.6 1481.9 114.6 1481.7 125 1478.8C135.4 1475.8 140.8 1470.2 145 1465C149.2 1459.8 146.7 1452.9 150 1447.5C153.3 1442.1 160 1437.1 165 1432.5C170 1427.9 177.5 1422.1 180 1420" stroke-width="5"/>
<path d="M82.5 1501.2C88.8 1500 108.8 1494.3 120 1493.8C131.2 1493.2 142.9 1499 150 1498C157.1 1497 159.6 1491.8 162.5 1487.5C165.4 1483.2 167.9 1475.8 167.5 1472.5C167.1 1469.2 162.9 1466.7 160 1467.5C157.1 1468.3 155 1473.8 150 1477.5C145 1481.2 133.3 1487.9 130 1490" stroke-width="6"/>
<path d="M72.5 1514.5 L100 1513.8 L150 1510 L195 1506.2" stroke-width="6.5"/>
<path d="M250 1437.5C245.8 1444.2 230.8 1468.3 225 1477.5C219.2 1486.7 219.6 1487.9 215 1492.5C210.4 1497.1 202.3 1498.8 197.5 1505C192.7 1511.2 187.7 1521.7 186.2 1530C184.8 1538.3 190.6 1545 188.8 1555C186.9 1565 179.8 1581.9 175 1590C170.2 1598.1 162.5 1601.5 160 1603.8" stroke-width="7.5"/>
<path d="M240 1435 L195 1498" stroke-width="3.5"/>
<path d="M310 1430C304.2 1435 285 1451.2 275 1460C265 1468.8 258.3 1472.9 250 1482.5C241.7 1492.1 234.2 1504.6 225 1517.5C215.8 1530.4 203.3 1547.5 195 1560C186.7 1572.5 180 1584.8 175 1592.5C170 1600.2 166.7 1604 165 1606.2" stroke-width="5.5"/>
<path d="M325 1435C320.8 1438.3 308.3 1446.7 300 1455C291.7 1463.3 283.3 1474.6 275 1485C266.7 1495.4 258.8 1505.8 250 1517.5C241.2 1529.2 231.7 1542.9 222.5 1555C213.3 1567.1 202.9 1581.2 195 1590C187.1 1598.8 180.4 1604.3 175 1607.5C169.6 1610.7 165.3 1609.8 162.5 1609.2C159.7 1608.8 158.8 1605.3 158 1604.5" stroke-width="5.5"/>
<path d="M212.5 1495 L225 1515" stroke-width="5"/>
<path d="M222.5 1558C225 1557.5 232.9 1555.5 237.5 1555C242.1 1554.5 247.9 1555 250 1555" stroke-width="6"/>
<path d="M185 1570 L165 1600" stroke-width="9" stroke-linecap="butt"/>
<path d="M285 1465C287 1462.9 294.2 1461.5 295 1463C295.8 1464.5 294.5 1477.9 292.5 1480C290.5 1482.1 275.8 1485.2 275 1483.8C274.2 1482.2 283 1467.1 285 1465Z" stroke-width="6"/>
<path d="M260 1507.5C266.7 1506.5 288.3 1502.9 300 1501.2C311.7 1499.6 319.6 1497.7 330 1497.5C340.4 1497.3 353.3 1498.8 362.5 1500C371.7 1501.2 381.2 1504.2 385 1505" stroke-width="7"/>
<path d="M275 1525 L260 1552.5" stroke-width="4"/>
<path d="M275 1525.5C276 1523.6 285.4 1524.5 287.5 1526.2C289.6 1528 297.2 1541.1 296.2 1543C295.2 1544.9 279.6 1546.8 277.5 1545C275.4 1543.2 274 1527.4 275 1525.5Z" stroke-width="4" fill="#000"/>
<path d="M297.5 1525C298.8 1527.1 300.4 1535.4 305 1537.5C309.6 1539.6 320.8 1539.2 325 1537.5C329.2 1535.8 330.8 1530 330 1527.5C329.2 1525 321.7 1523.3 320 1522.5" stroke-width="6"/>
<ellipse cx="340" cy="1527" rx="11.2" ry="7" stroke-width="6" fill="none"/>
<path d="M222.5 1557.5C225 1556.9 230.8 1554 237.5 1553.8C244.2 1553.5 256.2 1555.2 262.5 1556.2C268.8 1557.3 268.8 1561 275 1560C281.2 1559 291.7 1552.9 300 1550C308.3 1547.1 317.5 1543.5 325 1542.5C332.5 1541.5 339.2 1542.5 345 1543.8C350.8 1545 356.2 1545.6 360 1550C363.8 1554.4 365 1565.4 367.5 1570C370 1574.6 372.1 1577.1 375 1577.5C377.9 1577.9 381.7 1577.9 385 1572.5C388.3 1567.1 391.7 1556.7 395 1545C398.3 1533.3 402.9 1513.8 405 1502.5C407.1 1491.2 407.1 1481.7 407.5 1477.5" stroke-width="7"/>
<path d="M390 1475C389.2 1479.6 387.5 1493.8 385 1502.5C382.5 1511.2 378.3 1520 375 1527.5C371.7 1535 366.7 1544.2 365 1547.5" stroke-width="5"/>
<path d="M400 1477.5C399.6 1483.8 400 1501.2 397.5 1515C395 1528.8 387.9 1550.4 385 1560C382.1 1569.6 380.8 1570.4 380 1572.5" stroke-width="4"/>
<path d="M385 1447.5C385.8 1450.4 387.5 1461.7 390 1465C392.5 1468.3 394.2 1468.8 400 1467.5C405.8 1466.2 416.7 1461.2 425 1457.5C433.3 1453.8 445.8 1447.1 450 1445" stroke-width="6"/>
<path d="M331 1540 L322 1600 L314 1640" stroke-width="9.5" stroke-linecap="butt"/>
<path d="M430 1187.5C433.3 1191.7 443.8 1204.6 450 1212.5C456.2 1220.4 461.2 1226.2 467.5 1235C473.8 1243.8 482.1 1255.4 487.5 1265C492.9 1274.6 497.5 1282.5 500 1292.5C502.5 1302.5 502.1 1319.6 502.5 1325" stroke-width="6.6"/>
<path d="M502.5 1325C503.2 1326.1 505.8 1331 507.5 1333C509.2 1335 514.3 1337.1 515 1340C515.7 1342.9 514.3 1351.7 513 1355C511.7 1358.3 507.7 1363 505 1365C502.3 1367 497.5 1368.8 492.5 1370C487.5 1371.2 475.8 1372.8 467.5 1373.8C459.2 1374.8 435 1377 430 1377.5" stroke-width="6.6"/>
<path d="M467.5 1430 L482.5 1412.5 L495 1387.5" stroke-width="5.7"/>
<ellipse cx="533" cy="1216.2" rx="7" ry="7.5" stroke-width="6.6" fill="none"/>
<path d="M530 1208 L680 1208" stroke-width="9" stroke-linecap="butt"/>
<path d="M541.2 1226.2C542.7 1226.3 546.9 1224 550 1226.8C553.1 1229.5 557.9 1237 560 1242.5C562.1 1248 562.1 1257.1 562.5 1260" stroke-width="6.6"/>
<path d="M550 1263 L580 1265" stroke-width="5.7"/>
<path d="M590 1225 L680 1223.8" stroke-width="9" stroke-linecap="butt"/>
<path d="M590 1225C589.2 1225.8 585.5 1223.8 585.5 1230C585.5 1236.2 588.4 1253.3 590 1262.5C591.6 1271.7 593.8 1273.8 595 1285C596.2 1296.2 596.7 1315.4 597.5 1330C598.3 1344.6 599.6 1365.4 600 1372.5" stroke-width="9"/>
<path d="M562.5 1292.5C562.9 1298.8 564.2 1315.4 565 1330C565.8 1344.6 567.5 1363.3 567.5 1380C567.5 1396.7 565.4 1421.7 565 1430" stroke-width="6.6"/>
<path d="M560 1272.5C562 1270.5 578 1269 580 1270C582 1271 581 1280.5 580 1282.5C579 1284.5 572 1289.2 570 1290C568 1290.8 561 1291.8 560 1290C559 1288.2 558 1274.5 560 1272.5Z" stroke-width="5.7"/>
<path d="M585 1280C585.4 1288.3 586.7 1313.3 587.5 1330C588.3 1346.7 590 1363.3 590 1380C590 1396.7 587.9 1421.7 587.5 1430" stroke-width="4.8"/>
<path d="M607.5 1262.5 L680 1260" stroke-width="5.7"/>
<path d="M610 1265C610.8 1267.1 615.8 1274.2 615 1277.5C614.2 1280.8 606.7 1283.8 605 1285" stroke-width="7.6"/>
<path d="M600 1287 L635 1288" stroke-width="7.6"/>
<path d="M602.5 1375.5 L642.5 1378" stroke-width="9" stroke-linecap="butt"/>
<path d="M622.5 1270C626.2 1270.2 640 1269.6 645 1271.2C650 1272.9 650.4 1274.4 652.5 1280C654.6 1285.6 655 1292.5 657.5 1305C660 1317.5 664.2 1338.3 667.5 1355C670.8 1371.7 675.4 1392.5 677.5 1405C679.6 1417.5 679.6 1425.8 680 1430" stroke-width="4.8"/>
<path d="M625 1278C627.9 1278.1 638.8 1276.3 642.5 1278.8C646.2 1281.2 645.4 1284 647.5 1292.5C649.6 1301 652.1 1315.4 655 1330C657.9 1344.6 662.1 1363.3 665 1380C667.9 1396.7 671.2 1421.7 672.5 1430" stroke-width="3.8"/>
<path d="M635 1290C636.2 1296.7 640 1315 642.5 1330C645 1345 647.5 1363.3 650 1380C652.5 1396.7 656.2 1421.7 657.5 1430" stroke-width="5.7"/>
<path d="M680 1275C678.3 1275.8 672.5 1277.1 670 1280C667.5 1282.9 665 1284.2 665 1292.5C665 1300.8 667.5 1315.4 670 1330C672.5 1344.6 678.3 1371.7 680 1380" stroke-width="7.6"/>
<ellipse cx="630" cy="1400" rx="13.8" ry="5" stroke-width="5.7" fill="none"/>
<path d="M600 1430C600.8 1427.9 601.7 1420.4 605 1417.5C608.3 1414.6 615 1412.9 620 1412.5C625 1412.1 630.4 1412.1 635 1415C639.6 1417.9 645.4 1427.5 647.5 1430" stroke-width="6.6"/>
<path d="M680 1207.5C682 1208.2 690 1210.8 695 1212.5C700 1214.2 711.2 1216 717.5 1220C723.8 1224 735.8 1236.8 742.5 1242.5C749.2 1248.2 761.2 1258.5 767.5 1262.5C773.8 1266.5 783 1267.8 790 1272.5C797 1277.2 811.3 1289.8 820 1297.5C828.7 1305.2 845.3 1319.7 855 1330C864.7 1340.3 882.5 1363 892.5 1375C902.5 1387 925 1414 930 1420" stroke-width="6.2"/>
<path d="M717.5 1222.5 L762.5 1258" stroke-width="10" stroke-linecap="butt"/>
<path d="M680 1225C683.3 1226.7 692.5 1230 700 1235C707.5 1240 720.8 1251.7 725 1255" stroke-width="10"/>
<path d="M680 1260 L750 1260 L767.5 1265" stroke-width="4.8"/>
<path d="M680 1283.8C693.8 1284 744.2 1284 762.5 1285C780.8 1286 785.4 1289.2 790 1290" stroke-width="9"/>
<path d="M680 1275C691.7 1275.2 752.5 1274.9 767.5 1276.2C782.5 1277.6 785.5 1281.2 792.5 1285C799.5 1288.8 811.7 1297.7 820 1305C828.3 1312.3 846 1329.3 855 1340C864 1350.7 881.2 1375.7 887.5 1385C893.8 1394.3 901.2 1405.7 902.5 1410C903.8 1414.3 910.5 1415.7 897.5 1417.5C884.5 1419.3 834 1422.1 805 1423.8C776 1425.4 696.7 1429.2 680 1430" stroke-width="4.3"/>
<path d="M762.5 1292.5C766.2 1296.2 777.1 1306.7 785 1315C792.9 1323.3 804.2 1335.8 810 1342.5C815.8 1349.2 819.2 1350.8 820 1355C820.8 1359.2 817.5 1364.6 815 1367.5C812.5 1370.4 806.7 1371.7 805 1372.5" stroke-width="5.7"/>
<path d="M690 1373.8 L805 1370.5" stroke-width="9" stroke-linecap="butt"/>
<path d="M765 1292.5 L805 1335" stroke-width="9" stroke-linecap="butt"/>
<path d="M792.5 1292.5C797.5 1298.2 821 1324.7 830 1335C839 1345.3 852.7 1361.7 860 1370C867.3 1378.3 882.3 1392.5 885 1397.5C887.7 1402.5 890.7 1405.7 880 1407.5C869.3 1409.3 829.7 1410.2 805 1411.2C780.3 1412.2 709.7 1414.5 695 1415" stroke-width="5.7"/>
<path d="M695 1412 L740 1410.8" stroke-width="12" stroke-linecap="butt"/>
<path d="M800 1290C807.1 1296.7 829.2 1315 842.5 1330C855.8 1345 872.3 1368.5 880 1380C887.7 1391.5 887.3 1395.6 888.8 1398.8" stroke-width="4.8"/>
<path d="M680 1320C680.8 1327.9 682.9 1351.7 685 1367.5C687.1 1383.3 691.2 1407.1 692.5 1415" stroke-width="4.8"/>
<path d="M770 1323 L782.5 1324" stroke-width="6.6"/>
<path d="M773.8 1327.5 L762.5 1362.5" stroke-width="3.8"/>
<path d="M780 1330 L770 1360" stroke-width="3.8"/>
<path d="M787.5 1330C788.3 1332.5 789.2 1341.7 792.5 1345C795.8 1348.3 805 1349.2 807.5 1350" stroke-width="4.8"/>
<ellipse cx="715" cy="1395" rx="16.2" ry="5" stroke-width="5.7" fill="none"/>
<ellipse cx="832.5" cy="1391.2" rx="15" ry="5.5" stroke-width="5.7" fill="none"/>
<path d="M767.5 1405C767.5 1402.9 765.8 1395.8 767.5 1392.5C769.2 1389.2 774.2 1385 777.5 1385C780.8 1385 785.8 1388.8 787.5 1392.5C789.2 1396.2 787.5 1405 787.5 1407.5" stroke-width="6.6"/>
<path d="M930 1420C932.5 1425 940.4 1438.8 945 1450C949.6 1461.2 955.4 1481.2 957.5 1487.5" stroke-width="2.1"/>
<path d="M960 1502.5C960.4 1505.4 960.8 1516.2 962.5 1520C964.2 1523.8 968.8 1520 970 1525C971.2 1530 970 1545.8 970 1550" stroke-width="4.2"/>
<path d="M922.5 1410 L935 1415.5" stroke-width="4.2"/>
<path d="M951.2 1373.8 L932.5 1415 L915 1462.5" stroke-width="3.4"/>
<path d="M850 1452.5C851.7 1450.9 855.8 1445.1 860 1443C864.2 1440.9 870.8 1438.8 875 1440C879.2 1441.2 882.5 1445.8 885 1450C887.5 1454.2 889.2 1462.5 890 1465" stroke-width="3.4"/>
<path d="M848.8 1462.5C849.4 1465 849.8 1474.2 852.5 1477.5C855.2 1480.8 862.9 1481.7 865 1482.5" stroke-width="3.4"/>
<ellipse cx="897.5" cy="1488.8" rx="28.8" ry="23" stroke-width="6.8" fill="none" transform="rotate(-10 897.5 1488.8)"/>
<ellipse cx="896.2" cy="1485" rx="6.2" ry="6.2" stroke-width="4.2" fill="none"/>
<path d="M880 1471.2C879 1474.4 874.1 1484.6 873.8 1490C873.4 1495.4 877.3 1501.5 878 1503.8" stroke-width="4.2"/>
<path d="M565 1430C564.3 1435 561.7 1457.5 560 1467.5C558.3 1477.5 554.5 1495 552.5 1505C550.5 1515 546.7 1533.8 545 1542.5C543.3 1551.2 542 1564 540 1570C538 1576 533.7 1584 530 1587.5C526.3 1591 521.8 1594.9 512.5 1596.2C503.2 1597.6 467 1597.3 460 1597.5" stroke-width="5.1"/>
<path d="M460 1597.5C459.6 1598.4 456.5 1602.5 456.2 1605C456 1607.5 450.9 1617 457.5 1618.8C464.1 1620.5 501.7 1620.3 512.5 1620C523.3 1619.7 541 1616.7 550 1616.2C559 1615.8 583.6 1617 590 1616.2C596.4 1615.5 602.1 1612.2 605 1610C607.9 1607.8 612.7 1601 615 1597.5C617.3 1594 623.2 1583.2 625 1580C626.8 1576.8 629.4 1571.2 630 1570" stroke-width="4.2"/>
<path d="M463.8 1605 L471.2 1612.5" stroke-width="4.2"/>
<path d="M471.2 1605 L463.8 1612.5" stroke-width="4.2"/>
<path d="M485 1605 L492.5 1612.5" stroke-width="4.2"/>
<path d="M492.5 1605 L485 1612.5" stroke-width="4.2"/>
<path d="M505 1605 L512.5 1612.5" stroke-width="4.2"/>
<path d="M512.5 1605 L505 1612.5" stroke-width="4.2"/>
<ellipse cx="530" cy="1607.5" rx="5" ry="5" stroke-width="4.2" fill="none"/>
<ellipse cx="548.8" cy="1606.2" rx="5" ry="5" stroke-width="4.2" fill="none"/>
<path d="M602.5 1430C601.2 1434.2 597.1 1445.4 595 1455C592.9 1464.6 589.2 1480.4 590 1487.5C590.8 1494.6 595 1496 600 1497.5C605 1499 615 1497.9 620 1496.2C625 1494.6 626.2 1489.8 630 1487.5C633.8 1485.2 640.4 1483.3 642.5 1482.5" stroke-width="9"/>
<path d="M585 1430C584.2 1438.3 582.1 1464.2 580 1480C577.9 1495.8 572.5 1515.4 572.5 1525C572.5 1534.6 576.7 1535.4 580 1537.5C583.3 1539.6 588.8 1539.2 592.5 1537.5C596.2 1535.8 598.8 1530 602.5 1527.5C606.2 1525 611.2 1525.4 615 1522.5C618.8 1519.6 620.8 1513.3 625 1510C629.2 1506.7 637.5 1503.8 640 1502.5" stroke-width="5.1"/>
<path d="M560 1550C562.2 1547.5 572.1 1548.2 575 1550C577.9 1551.8 588.5 1564.2 588.8 1567.5C589 1570.8 581.1 1581 577.5 1582.5C573.9 1584 555 1583.2 552.5 1582.5C550 1581.8 551.8 1578.2 552.5 1575C553.2 1571.8 557.8 1552.5 560 1550Z" stroke-width="6"/>
<path d="M635 1535C630 1540.8 613.8 1558.3 605 1570C596.2 1581.7 586.2 1599.2 582.5 1605" stroke-width="4.2"/>
<path d="M630 1570C627.5 1575 619.2 1592.5 615 1600C610.8 1607.5 606.7 1612.5 605 1615" stroke-width="4.2"/>
<path d="M655 1430C654.2 1436.2 651.7 1455 650 1467.5C648.3 1480 646.7 1492.5 645 1505C643.3 1517.5 641.7 1530 640 1542.5C638.3 1555 636.7 1569.6 635 1580C633.3 1590.4 630.8 1600.8 630 1605" stroke-width="6"/>
<path d="M665 1430C664.7 1436.7 663.5 1466.7 662.5 1480C661.5 1493.3 658.5 1518 657.5 1530C656.5 1542 656 1562 655 1570C654 1578 652.7 1584.7 650 1590C647.3 1595.3 639 1606 635 1610C631 1614 623.3 1616.3 620 1620C616.7 1623.7 612.7 1634.2 610 1637.5C607.3 1640.8 609 1644 600 1645C591 1646 550.2 1645 542.5 1645" stroke-width="4.2"/>
<path d="M680 1452.5C679 1457.8 673.8 1482.2 672.5 1492.5C671.2 1502.8 670 1519.7 670 1530C670 1540.3 673.2 1561.3 672.5 1570C671.8 1578.7 668.3 1588.7 665 1595C661.7 1601.3 651.5 1612.8 647.5 1617.5C643.5 1622.2 637.7 1626 635 1630C632.3 1634 630.2 1644.2 627.5 1647.5C624.8 1650.8 625.3 1654 615 1655C604.7 1656 558.7 1655 550 1655" stroke-width="4.2"/>
<path d="M675 1585C673 1589.3 665 1609.8 660 1617.5C655 1625.2 641.5 1636.8 637.5 1642.5C633.5 1648.2 634.3 1657 630 1660C625.7 1663 614.3 1665 605 1665C595.7 1665 566 1660.7 560 1660" stroke-width="4.2"/>
<path d="M680 1605C677.7 1609.3 667.2 1630.8 662.5 1637.5C657.8 1644.2 649.3 1650.7 645 1655C640.7 1659.3 635.3 1668 630 1670C624.7 1672 608.3 1670 605 1670" stroke-width="6"/>
<path d="M542.5 1642.5C541.9 1643.8 538.3 1647.1 538.8 1650C539.2 1652.9 543.1 1656.7 545 1660C546.9 1663.3 551.2 1667.7 550 1670C548.8 1672.3 539.6 1673.1 537.5 1673.8" stroke-width="5.1"/>
<path d="M537.5 1675 L605 1670.5 L662.5 1675.5" stroke-width="9" stroke-linecap="butt"/>
<ellipse cx="658.8" cy="1582.5" rx="3" ry="3" stroke="none" fill="#000"/>
<ellipse cx="661.2" cy="1566.2" rx="3" ry="3" stroke="none" fill="#000"/>
<path d="M680 1647.5C683.8 1641.9 697.1 1621.2 705 1610C712.9 1598.8 727.6 1580 732.5 1572.5C737.4 1565 734.1 1564.9 737.5 1560C740.9 1555.1 748.6 1545.6 755 1540C761.4 1534.4 772.5 1526.6 780 1522.5C787.5 1518.4 797.5 1514.2 805 1512.5C812.5 1510.8 822.5 1510.1 830 1511.2C837.5 1512.4 849 1516.1 855 1520C861 1523.9 866.6 1531.5 870 1537.5C873.4 1543.5 876 1552.9 877.5 1560C879 1567.1 880.4 1576.8 880 1585C879.6 1593.2 877.2 1606.8 875 1615C872.8 1623.2 867.2 1634.8 865 1640C862.8 1645.2 860.8 1648.5 860 1650" stroke-width="3.8"/>
<path d="M695 1642.5C696.5 1640.6 697.9 1639 705 1630C712.1 1621 733.1 1593.8 742.5 1582.5C751.9 1571.2 760 1561.8 767.5 1555C775 1548.2 785 1541.4 792.5 1537.5C800 1533.6 810.4 1529.9 817.5 1528.8C824.6 1527.6 834 1527.9 840 1530C846 1532.1 853.6 1537.6 857.5 1542.5C861.4 1547.4 864.6 1556.1 866.2 1562.5C867.9 1568.9 868.9 1577.9 868.8 1585C868.6 1592.1 867.1 1602.9 865 1610C862.9 1617.1 857.2 1627.2 855 1632.5C852.8 1637.8 850.8 1643.1 850 1645" stroke-width="5.2"/>
<path d="M820 1530C823.3 1532.1 833.3 1538.8 840 1542.5C846.7 1546.2 856.7 1550.8 860 1552.5" stroke-width="3.8"/>
<path d="M830 1530C833.3 1530.8 844.6 1532.1 850 1535C855.4 1537.9 860.4 1545.4 862.5 1547.5" stroke-width="5.2"/>
<path d="M725 1610C727.9 1609.2 733.3 1606.2 742.5 1605C751.7 1603.8 767.5 1602.9 780 1602.5C792.5 1602.1 808.3 1603.8 817.5 1602.5C826.7 1601.2 829.6 1596.7 835 1595C840.4 1593.3 845.8 1592.5 850 1592.5C854.2 1592.5 858.3 1594.6 860 1595" stroke-width="3.8"/>
<path d="M780 1602.5 L820 1602.5 L835 1597.5" stroke-width="6"/>
<path d="M742.5 1583.8 L775 1602.5 L727.5 1608.8Z" stroke-width="3.8"/>
<path d="M745 1585 L767.5 1600" stroke-width="6"/>
<path d="M712.5 1640C717.5 1637.1 731.2 1627.5 742.5 1622.5C753.8 1617.5 767.1 1612.1 780 1610C792.9 1607.9 810.8 1609.6 820 1610C829.2 1610.4 831.2 1613.3 835 1612.5C838.8 1611.7 839.2 1606.2 842.5 1605C845.8 1603.8 852.9 1605 855 1605" stroke-width="3.8"/>
<path d="M687.5 1680C692.5 1675 707.1 1658.8 717.5 1650C727.9 1641.2 739.6 1633.1 750 1627.5C760.4 1621.9 770.8 1618.5 780 1616.2C789.2 1614 800.8 1614.2 805 1613.8" stroke-width="5.2"/>
<path d="M852.5 1610C851.7 1613.3 847.5 1625.4 847.5 1630C847.5 1634.6 851.7 1636.2 852.5 1637.5" stroke-width="4.5"/>
<path d="M695 1568.8 L735 1567.5" stroke-width="2.2"/>
<path d="M887.5 1562.5 L915 1560 L930 1558.8" stroke-width="3"/>
<path d="M915 1560 L907.5 1595 L930 1592.5" stroke-width="5.2"/>
<path d="M920 1570 L930 1568.8" stroke-width="3.8"/>
<path d="M917.5 1581.2 L930 1580" stroke-width="3.8"/>
<path d="M930 1615C925.8 1617.9 913.3 1627.9 905 1632.5C896.7 1637.1 887.5 1640 880 1642.5C872.5 1645 863.3 1646.7 860 1647.5" stroke-width="3.8"/>
<path d="M865 1662.5 L895 1680" stroke-width="9" stroke-linecap="butt"/>
<path d="M970 1550C969.2 1550.8 967.5 1552.9 965 1555C962.5 1557.1 958.3 1558.3 955 1562.5C951.7 1566.7 947.9 1574.2 945 1580C942.1 1585.8 940 1592.1 937.5 1597.5C935 1602.9 931.2 1610 930 1612.5" stroke-width="3.8"/>
<path d="M952.5 1562.5 L937.5 1592.5 L930 1593" stroke-width="3.8"/>
<path d="M922.5 1567.5 L945 1566.2 L937.5 1587.5 L915 1588.8Z" stroke-width="3"/>
<ellipse cx="927.5" cy="1577" rx="4" ry="4" stroke="none" fill="#000"/>
<path d="M867.5 1662.5 L907.5 1691.2" stroke-width="9" stroke-linecap="butt"/>
<path d="M862.5 1695.5 L907.5 1693.8" stroke-width="4.5"/>
<path d="M832.5 1690 L825 1720" stroke-width="3.8"/>
<path d="M842.5 1655 L838.8 1672.5" stroke-width="3"/>
<path d="M855 1652.5C855.8 1657.1 860 1671.2 860 1680C860 1688.8 857.1 1696.7 855 1705C852.9 1713.3 848.8 1725.8 847.5 1730" stroke-width="3.8"/>
<path d="M863.8 1652.5C864.2 1657.1 866.5 1671.2 866.2 1680C866 1688.8 864.4 1696.7 862.5 1705C860.6 1713.3 856.2 1725.8 855 1730" stroke-width="3.8"/>
<path d="M763.8 1724 L762.5 1776.5" stroke-width="3.8"/>
<path d="M717.5 1619C714.6 1625.2 703.3 1646.1 700 1656.5C696.7 1666.9 701.7 1672.8 697.5 1681.5C693.3 1690.2 682.9 1699.4 675 1709C667.1 1718.6 656.7 1731.3 650 1739C643.3 1746.7 637.5 1752.5 635 1755.2" stroke-width="6"/>
<path d="M750 1629C745.8 1634.8 731.7 1654 725 1664C718.3 1674 716.2 1680.2 710 1689C703.8 1697.8 695.4 1707.3 687.5 1716.5C679.6 1725.7 669.6 1736.1 662.5 1744C655.4 1751.9 649.6 1759.8 645 1764C640.4 1768.2 637.7 1769.2 635 1769C632.3 1768.8 629.4 1765 628.8 1762.8C628.1 1760.5 630.8 1756.5 631.2 1755.2" stroke-width="4.1"/>
<path d="M686.2 1667.8C687.3 1670 690.2 1678.8 692.5 1681.5C694.8 1684.2 698.8 1683.6 700 1684" stroke-width="3"/>
<path d="M600 1670.2 L615 1671.5" stroke-width="12" stroke-linecap="butt"/>
<path d="M615 1670.2C623.3 1670.7 653.8 1674.6 665 1672.8C676.2 1670.9 676.7 1665.5 682.5 1659C688.3 1652.5 695.8 1640.7 700 1634C704.2 1627.3 706.2 1621.5 707.5 1619" stroke-width="3.8"/>
<path d="M660 1676.5C659.6 1680.7 657.5 1693.6 657.5 1701.5C657.5 1709.4 660.4 1718.2 660 1724C659.6 1729.8 655.8 1734.4 655 1736.5" stroke-width="3"/>
<path d="M632.5 1734C633.3 1735.2 637.5 1738.2 637.5 1741.5C637.5 1744.8 633.3 1751.9 632.5 1754" stroke-width="3"/>
<path d="M600 1651.5C604.2 1651.9 616.7 1656.1 625 1654C633.3 1651.9 643.3 1644.8 650 1639C656.7 1633.2 662.5 1622.3 665 1619" stroke-width="3.8"/>
<path d="M600 1634C603.3 1633.2 613.8 1631.5 620 1629C626.2 1626.5 634.6 1620.7 637.5 1619" stroke-width="3.8"/>
<path d="M722.5 1679C727.1 1678.2 739.2 1675.2 750 1674C760.8 1672.8 775 1671.7 787.5 1671.5C800 1671.3 815.4 1671.1 825 1672.8C834.6 1674.4 841.7 1680 845 1681.5" stroke-width="3.8"/>
<path d="M730 1709C731.7 1706.5 736.7 1696.1 740 1694C743.3 1691.9 746.7 1692.8 750 1696.5C753.3 1700.2 758.3 1713.2 760 1716.5" stroke-width="3"/>
<path d="M765 1696.5 L782.5 1696.5 L785 1716.5 L762.5 1719" stroke-width="4.5"/>
<path d="M762.5 1719 L785 1719" stroke-width="6"/>
<ellipse cx="798.8" cy="1701.5" rx="9.5" ry="6" stroke-width="4.5" fill="none" transform="rotate(-10 798.8 1701.5)"/>
<path d="M680 1731.5C682.7 1730.3 695 1724.1 700 1722.8C705 1721.4 712.2 1721 717.5 1721.5C722.8 1722 734.3 1726.2 740 1726.5C745.7 1726.8 755.3 1725 760 1724C764.7 1723 769.7 1719.8 775 1719C780.3 1718.2 794.3 1717.1 800 1717.8C805.7 1718.4 814.2 1720.8 817.5 1724C820.8 1727.2 823 1738 825 1741.5C827 1745 830.5 1749.9 832.5 1750.2C834.5 1750.6 838 1748.2 840 1744C842 1739.8 846.2 1724.7 847.5 1719C848.8 1713.3 849.7 1703.8 850 1701.5" stroke-width="4.5"/>
<path d="M832.5 1691.5 L822.5 1719" stroke-width="3.8"/>
<path d="M845 1644 L840 1674" stroke-width="3"/>
<path d="M753 1140 L748 1158" stroke-width="3"/>
<path d="M704 1161 L785 1163" stroke-width="5"/>
<path d="M706 1161 L703 1214" stroke-width="5"/>
<path d="M782 1163 L780 1262" stroke-width="6"/>
</g>
<g class="lbl" opacity="0.999">
<text font-size="62.32" transform="translate(223.21 101.00) scale(0.636 1)">4</text>
<text font-size="59.15" transform="translate(456.12 89.41) scale(0.744 1)">3</text>
<text font-size="62.32" transform="translate(659.45 78.00) scale(0.683 1)">1</text>
<text font-size="60.00" transform="translate(749.78 236.00) scale(0.680 1)">2</text>
<text font-size="60.56" transform="translate(124.62 970.39) scale(0.654 1)">10</text>
<text font-size="61.43" transform="translate(574.68 1137.39) scale(0.716 1)">5</text>
<text font-size="59.15" transform="translate(740.17 1128.41) scale(0.775 1)">6</text>
<text font-size="58.82" transform="translate(454.47 1112.59) scale(0.651 1)">7</text>
<text font-size="60.56" transform="translate(955.17 1383.39) scale(0.757 1)">9</text>
<text font-size="59.15" transform="translate(298.68 1697.41) scale(0.744 1)">8</text>
<text font-size="60.56" transform="translate(748.80 1831.39) scale(0.660 1)">8</text>
</g>
</svg>
</body>
</html>
